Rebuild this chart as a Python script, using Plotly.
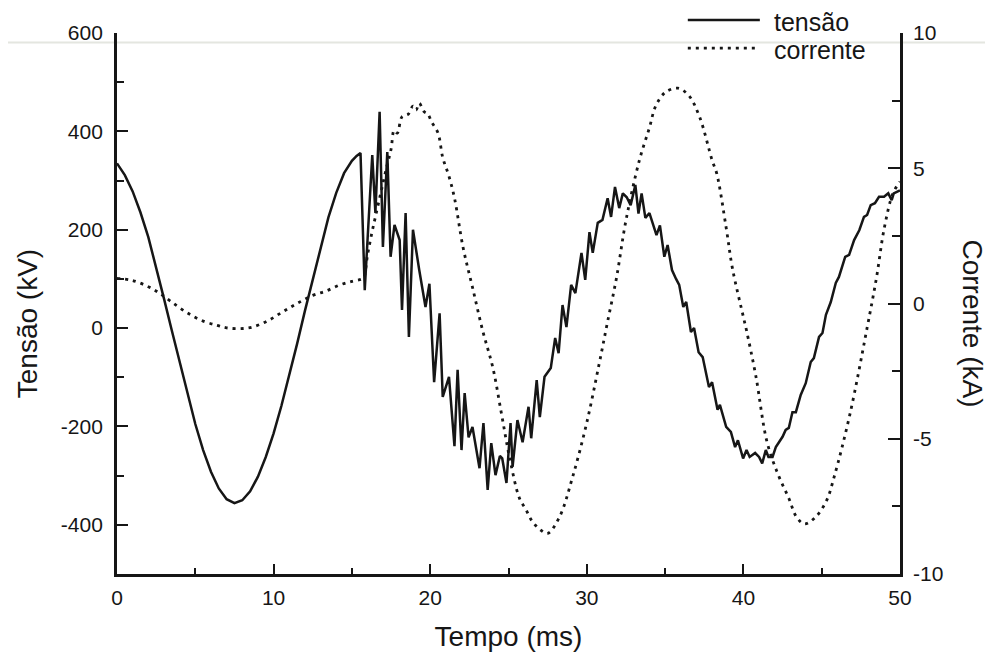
import plotly.graph_objects as go


# ── Data (t in ms) ────────────────────────────────────────────────────────────

tensao_t = [
    0.0, 0.5, 1.0, 1.5, 2.0, 2.5, 3.0, 3.5, 4.0, 4.5, 5.0, 5.5, 6.0, 6.5, 7.0, 7.5,
    8.0, 8.5, 9.0, 9.5, 10.0, 10.5, 11.0, 11.5, 12.0, 12.5, 13.0, 13.5, 14.0, 14.5,
    15.0, 15.3, 15.55, 15.82, 16.3, 16.5, 16.77, 16.98, 17.26, 17.47, 17.72, 18.05,
    18.2, 18.43, 18.64, 18.9, 19.3, 19.7, 19.95, 20.25, 20.6, 20.8, 21.2, 21.55,
    21.75, 22.0, 22.2, 22.45, 22.7, 23.15, 23.4, 23.67, 23.9, 24.17, 24.45, 24.6,
    24.87, 25.13, 25.26, 25.57, 25.9, 26.28, 26.45, 26.8, 27.0, 27.3, 27.7, 27.98,
    28.2, 28.45, 28.7, 29.0, 29.27, 29.66, 29.9, 30.17, 30.38, 30.7, 31.0, 31.33,
    31.55, 31.8, 32.07, 32.3, 32.55, 32.8, 33.1, 33.3, 33.5, 33.74, 34.0, 34.2,
    34.45, 34.67, 34.95, 35.16, 35.44, 35.7, 35.9, 36.16, 36.35, 36.65, 36.85,
    37.14, 37.4, 37.8, 38.0, 38.35, 38.5, 38.9, 39.2, 39.47, 39.65, 39.98, 40.2,
    40.4, 40.75, 41.0, 41.2, 41.43, 41.6, 41.86, 42.07, 42.5, 42.7, 42.9, 43.13,
    43.35, 43.66, 43.98, 44.3, 44.5, 44.83, 45.05, 45.27, 45.58, 45.9, 46.1, 46.5,
    46.75, 47.07, 47.4, 47.7, 47.9, 48.13, 48.4, 48.66, 48.98, 49.25, 49.47, 49.6,
    49.8, 50.0,
]
tensao_kv = [
    335, 311, 278, 235, 185, 125, 60, -5, -70, -135, -195, -248, -292, -326, -348, -356,
    -350, -332, -302, -262, -214, -158, -96, -32, 35, 100, 165, 225, 275, 315,
    340, 350, 356, 77, 352, 234, 440, 165, 358, 145, 210, 179,
    37, 234, -18, 200, 118, 43, 90, -110, 30, -140, -99, -240,
    -85, -248, -132, -222, -201, -285, -193, -329, -234, -299, -260, -265,
    -315, -193, -282, -187, -232, -160, -224, -106, -181, -99, -81, -20,
    -51, 47, 2, 88, 71, 153, 98, 195, 153, 214, 220, 264,
    226, 287, 244, 274, 266, 250, 291, 233, 274, 224, 234, 215,
    189, 209, 145, 169, 118, 100, 88, 43, 53, -8, 0,
    -49, -59, -120, -110, -166, -156, -201, -211, -242, -228, -265, -248,
    -262, -254, -262, -275, -248, -262, -262, -242, -221, -207, -203, -171,
    -171, -136, -112, -69, -61, -18, -10, 27, 53, 92, 104, 145,
    149, 179, 199, 226, 230, 250, 254, 267, 267, 274, 260, 274,
    277, 280,
]

corrente_t = [
    0.0, 1.0, 2.0, 2.74, 3.5, 4.5, 5.5, 6.4, 7.0, 7.8, 8.6, 9.6, 10.6, 11.5, 12.5,
    13.3, 14.2, 15.0, 15.6, 15.75, 16.0, 16.27, 16.5, 16.85, 17.2, 17.5, 17.7, 17.9,
    18.2, 18.6, 18.9, 19.1, 19.3, 19.6, 19.85, 20.1, 20.5, 20.8, 21.2, 21.55, 22.1,
    22.7, 23.35, 24.0, 24.55, 25.07, 25.7, 26.1, 26.5, 27.0, 27.5, 28.25, 29.1,
    30.0, 30.8, 31.3, 31.9, 32.5, 33.36, 34.0, 34.4, 35.0, 35.8, 36.5, 37.2, 38.0,
    38.3, 38.9, 39.3, 40.0, 40.2, 40.8, 41.5, 42.2, 42.9, 43.4, 43.9, 44.6, 45.3,
    45.8, 46.8, 47.9, 48.5, 49.0, 49.55, 50.0,
]
corrente_ka = [
    0.93, 0.85, 0.62, 0.37, 0.05, -0.35, -0.65, -0.81, -0.9, -0.93, -0.88, -0.65, -0.3, 0.0, 0.3,
    0.45, 0.68, 0.82, 0.9, 0.95, 1.8, 2.6, 3.2, 4.1, 5.0, 5.7, 6.4, 6.3,
    6.9, 7.0, 7.3, 7.15, 7.4, 7.1, 7.0, 6.7, 6.3, 5.4, 4.7, 3.9, 2.07,
    0.6, -1.0, -2.37, -4.07, -5.7, -7.2, -7.6, -8.04, -8.35, -8.5, -7.9, -6.4,
    -4.4, -2.2, -0.75, 0.96, 3.07, 5.3, 6.5, 7.3, 7.8, 7.96, 7.7, 6.9, 5.3,
    4.8, 2.8, 1.3, -0.5, -1.0, -2.7, -5.1, -6.3, -7.2, -7.9, -8.15, -7.9, -7.3,
    -6.4, -4.1, -0.9, 0.96, 2.8, 4.07, 4.5,
]

# ── Axis ticks ────────────────────────────────────────────────────────────────

x_ticks = [0, 10, 20, 30, 40, 50]
y_ticks = [-400, -200, 0, 200, 400, 600]
y_ticktext = ["-400", "-200", "0", "200", "400", "600"]
y2_ticks = [-10, -5, 0, 5, 10]
y2_ticktext = ["-10", "-5", "0", "5", "10"]

FONT = "Liberation Sans, Arial, sans-serif"
INK = "#161616"

# ── Figure ────────────────────────────────────────────────────────────────────
# the page body adds an 8px margin, so the figure is 8px smaller on each axis

fig = go.Figure()
fig.add_trace(go.Scatter(x=tensao_t, y=tensao_kv, mode="lines", name="tensão",
                         line=dict(color=INK, width=2.5), yaxis="y"))
fig.add_trace(go.Scatter(x=corrente_t, y=corrente_ka, mode="lines", name="corrente",
                         line=dict(color=INK, width=2.8, dash="3px,5px", shape="spline"),
                         yaxis="y2"))

axis_common = dict(showline=True, linewidth=2.8, linecolor=INK, ticks="inside",
                   tickwidth=2.4, tickcolor=INK, showgrid=False, zeroline=False,
                   automargin=False, tickfont=dict(family=FONT, size=21, color=INK))

fig.update_layout(
    width=985, height=644,
    margin=dict(l=109, r=93, t=25, b=78),
    paper_bgcolor="white", plot_bgcolor="white",
    showlegend=False,
    xaxis=dict(range=[0, 50], tickvals=x_ticks, ticklen=10, ticklabelstandoff=3,
               minor=dict(dtick=5, ticklen=6, ticks="inside", tickwidth=2.4, tickcolor=INK),
               title=dict(text="Tempo (ms)", standoff=22,
                          font=dict(family=FONT, size=28, color=INK)),
               **axis_common),
    yaxis=dict(range=[-500, 600], tickvals=y_ticks, ticktext=y_ticktext, ticklen=11,
               ticklabelstandoff=7,
               minor=dict(dtick=100, ticklen=7, ticks="inside", tickwidth=2.4, tickcolor=INK),
               **axis_common),
    yaxis2=dict(range=[-10, 10], tickvals=y2_ticks, ticktext=y2_ticktext, ticklen=12,
                ticklabelstandoff=6, overlaying="y", side="right",
                minor=dict(dtick=2.5, ticklen=8, ticks="inside", tickwidth=2.4, tickcolor=INK),
                **axis_common),
)

# y axis titles (Corrente reads top-to-bottom in the original)
fig.add_annotation(text="Tensão (kV)", xref="paper", yref="paper", x=-0.114, y=0.463,
                   textangle=-90, showarrow=False, xanchor="center", yanchor="middle",
                   font=dict(family=FONT, size=28, color=INK))
fig.add_annotation(text="Corrente (kA)", xref="paper", yref="paper", x=1.092, y=0.463,
                   textangle=90, showarrow=False, xanchor="center", yanchor="middle",
                   font=dict(family=FONT, size=28, color=INK))

# legend, drawn by hand to match the long line samples
fig.add_shape(type="line", xref="paper", yref="paper", x0=0.729, x1=0.821, y0=1.024, y1=1.024,
              line=dict(color=INK, width=2.4))
fig.add_shape(type="line", xref="paper", yref="paper", x0=0.729, x1=0.816, y0=0.972, y1=0.972,
              line=dict(color=INK, width=2.8, dash="3px,5px"))
for label, ypos in [("tensão", 1.0203), ("corrente", 0.9686)]:
    fig.add_annotation(text=label, xref="paper", yref="paper", x=0.836, y=ypos,
                       showarrow=False, xanchor="left", yanchor="middle",
                       font=dict(family=FONT, size=25, color=INK))

# faint scanner line across the page
fig.add_shape(type="line", xref="paper", yref="paper", x0=-0.16, x1=1.13, y0=0.9825, y1=0.9825,
              line=dict(color="#e4e6e0", width=2), layer="below")

fig.write_html("out.html")
